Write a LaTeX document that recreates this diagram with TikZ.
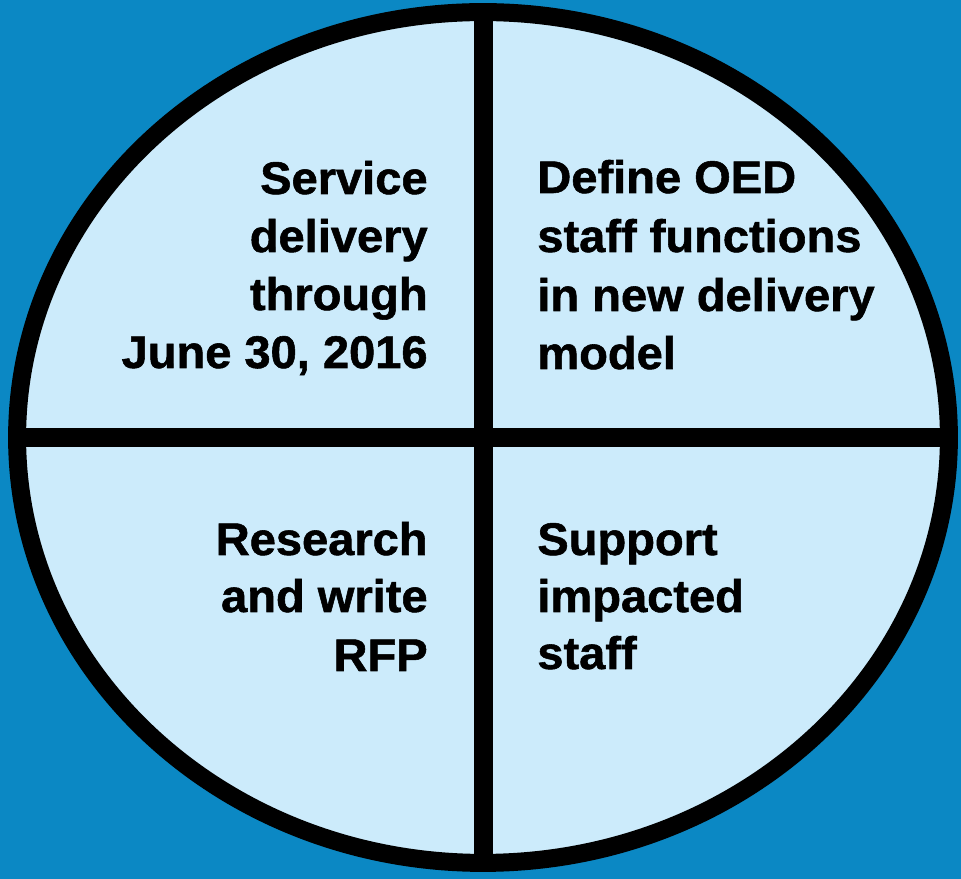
\documentclass[tikz,border=0pt]{standalone}
\usepackage{fontspec}
\setmainfont{Liberation Sans}
\newfontfamily\heavyfont{Liberation Sans Bold}[FakeBold=1.2, FakeStretch=1.03]
\usepackage{xcolor}
\usetikzlibrary{shapes.geometric}
\definecolor{seablue}{HTML}{0B88C4}
\definecolor{paleblue}{HTML}{CCEBFB}
\tikzset{
  backdrop/.style = {fill=seablue, draw=none},
  disc/.style     = {ellipse, draw=black, fill=paleblue, line width=0.36cm, inner sep=0pt, outer sep=0pt,
                     minimum width=18.64cm, minimum height=17.02cm},
  divider/.style  = {draw=black, line width=0.38cm},
  lbl/.style      = {font=\fontsize{26}{33}\heavyfont, inner sep=0pt, text=black},
  rlbl/.style     = {lbl, anchor=base east},
  llbl/.style     = {lbl, anchor=base west},
}

\begin{document}
\begin{tikzpicture}[x=0.02cm,y=0.02cm]
  \fill[backdrop] (0,0) rectangle (961,879);

  % the disc and its four quarters
  \node[disc] (disc) at (483,441.5) {};
  \draw[divider] (disc.north) -- (disc.south);
  \draw[divider] (disc.west) -- (disc.east);

  % ---- upper left ----
  \foreach \t/\y [count=\i] in {Service/685, delivery/627, through/569, {June 30, 2016}/511} {
    \node[rlbl] (svc\i) at (428,\y) {\t};
  }

  % ---- upper right ----
  \foreach \t/\y [count=\i] in {{Define OED}/686, {staff functions}/627, {in new delivery}/568, model/510} {
    \node[llbl] (oed\i) at (537,\y) {\t};
  }

  % ---- lower left ----
  \foreach \t/\y [count=\i] in {Research/324, {and write}/267, RFP/208} {
    \node[rlbl] (rfp\i) at (428,\y) {\t};
  }

  % ---- lower right ----
  \foreach \t/\y [count=\i] in {Support/324, impacted/267, staff/210} {
    \node[llbl] (sup\i) at (537,\y) {\t};
  }
\end{tikzpicture}
\end{document}
